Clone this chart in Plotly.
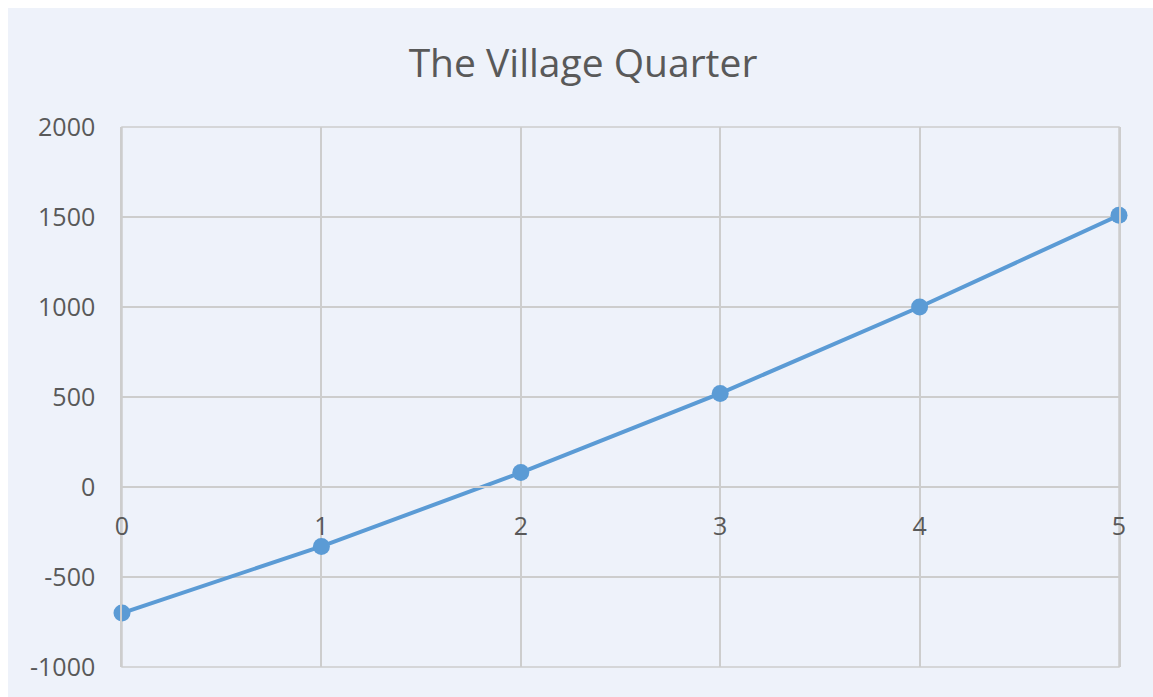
import plotly.graph_objects as go

# Data
x_values = [0, 1, 2, 3, 4, 5]
y_values = [-700, -330, 80, 520, 1000, 1510]
title_text = "The Village Quarter"
y_ticks = [-1000, -500, 0, 500, 1000, 1500, 2000]
y_tick_text = ["-1000", "-500", "0", "500", "1000", "1500", "2000"]

BG = "#eef2fa"
GRID = "#cdcdcd"
TXT = "#595959"
LINE = "#5b9bd5"
FONT = "Open Sans"

fig = go.Figure()
fig.add_trace(go.Scatter(
    x=x_values, y=y_values, mode="lines+markers",
    line=dict(color=LINE, width=4),
    marker=dict(color=LINE, size=17),
    cliponaxis=False, showlegend=False,
))

W, H = 1153, 697
PL, PR, PT, PB = 122, 1119, 127, 667
pw, ph = PR - PL, PB - PT
fig.update_layout(
    width=W, height=H,
    paper_bgcolor="white", plot_bgcolor="rgba(0,0,0,0)",
    margin=dict(l=PL, r=W - PR, t=PT, b=H - PB),
    title=dict(text=title_text, x=(583 - PL) / pw, xref="paper", xanchor="center",
               y=1 - 63 / H, yanchor="middle",
               font=dict(family=FONT, size=39, color=TXT)),
    font=dict(family=FONT, color=TXT),
    xaxis=dict(range=[0, 5], tickvals=x_values, showgrid=True, gridcolor=GRID, gridwidth=1.5,
               zeroline=False, showline=True, linecolor=GRID, linewidth=1.5,
               anchor="free", position=1 / 3, ticks="", ticklabelstandoff=17,
               tickfont=dict(family=FONT, size=25, color=TXT)),
    yaxis=dict(range=[-1000, 2000], tickvals=y_ticks, ticktext=y_tick_text,
               showgrid=True, gridcolor=GRID, gridwidth=1.5,
               zeroline=False, showline=True, linecolor=GRID, linewidth=1.5, mirror=True,
               ticks="", ticklabelstandoff=20,
               tickfont=dict(family=FONT, size=25, color=TXT)),
    shapes=[
        dict(type="rect", xref="paper", yref="paper",
             x0=(8 - PL) / pw, x1=(W + 5 - PL) / pw,
             y0=(PB - H - 5) / ph, y1=(PB - 8) / ph,
             line=dict(width=0), fillcolor=BG, layer="below"),
        dict(type="rect", xref="paper", yref="paper", x0=0, x1=1, y0=0, y1=1,
             line=dict(color=GRID, width=1.5), layer="below"),
    ],
)

fig.write_html("out.html", config={"displayModeBar": False},
               post_script="document.body.style.margin='0';document.body.style.overflow='hidden';")
